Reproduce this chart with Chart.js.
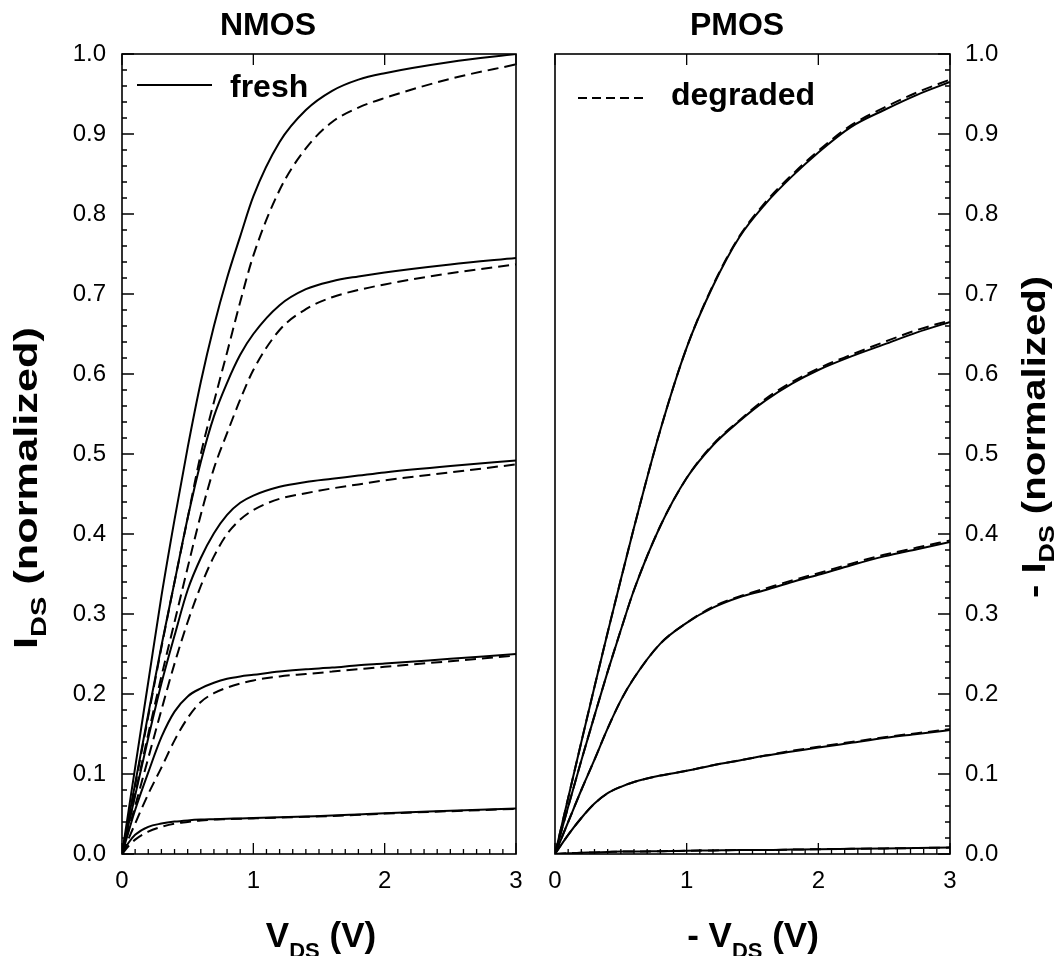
<!DOCTYPE html>
<html lang="en">
<head>
<meta charset="UTF-8">
<title>NMOS / PMOS output characteristics</title>
<script src="https://cdn.jsdelivr.net/npm/chart.js@4.4.0/dist/chart.umd.min.js"></script>
<style>
  body { margin: 0; background: #fff; }
  #wrap { position: relative; width: 1060px; height: 956px; overflow: hidden; }
  canvas { position: absolute; top: 0; }
</style>
</head>
<body>
<div id="wrap">
  <canvas id="nmos" width="530" height="956" style="left:0"></canvas>
  <canvas id="pmos" width="530" height="956" style="left:530px"></canvas>
</div>
<script>
// ---- data (normalized drain current vs |VDS|) ----
const NMOS_VDS = [0, 0.05, 0.1, 0.2, 0.3, 0.4, 0.5, 0.6, 0.7, 0.8, 0.9, 1.0, 1.2, 1.4, 1.6, 1.8, 2.0, 2.5, 3.0];
const nmosFresh1 = [0, 0.054, 0.108, 0.215, 0.322, 0.418, 0.508, 0.59, 0.66, 0.72, 0.772, 0.822, 0.89, 0.93, 0.954, 0.968, 0.976, 0.99, 1.0];
const nmosDegraded1 = [0, 0.043, 0.086, 0.172, 0.258, 0.34, 0.42, 0.5, 0.565, 0.627, 0.69, 0.748, 0.83, 0.882, 0.915, 0.933, 0.945, 0.969, 0.987];
const nmosFresh2 = [0, 0.044, 0.088, 0.175, 0.26, 0.34, 0.42, 0.49, 0.547, 0.589, 0.624, 0.65, 0.686, 0.706, 0.716, 0.722, 0.727, 0.737, 0.745];
const nmosDegraded2 = [0, 0.038, 0.075, 0.15, 0.222, 0.29, 0.358, 0.424, 0.482, 0.526, 0.568, 0.605, 0.655, 0.681, 0.696, 0.705, 0.712, 0.726, 0.737];
const nmosFresh3 = [0, 0.037, 0.073, 0.145, 0.213, 0.273, 0.33, 0.37, 0.401, 0.424, 0.439, 0.448, 0.459, 0.465, 0.469, 0.473, 0.477, 0.485, 0.492];
const nmosDegraded3 = [0, 0.03, 0.06, 0.12, 0.18, 0.238, 0.29, 0.335, 0.372, 0.4, 0.418, 0.43, 0.444, 0.451, 0.457, 0.462, 0.467, 0.477, 0.487];
const nmosFresh4 = [0, 0.028, 0.055, 0.102, 0.146, 0.178, 0.197, 0.207, 0.214, 0.219, 0.222, 0.224, 0.228, 0.231, 0.233, 0.236, 0.238, 0.244, 0.25];
const nmosDegraded4 = [0, 0.019, 0.038, 0.075, 0.108, 0.142, 0.17, 0.19, 0.201, 0.208, 0.213, 0.217, 0.222, 0.225, 0.228, 0.231, 0.234, 0.241, 0.248];
const nmosFresh5 = [0, 0.014, 0.024, 0.034, 0.038, 0.0405, 0.042, 0.043, 0.0435, 0.044, 0.0445, 0.045, 0.046, 0.047, 0.048, 0.0495, 0.051, 0.054, 0.057];
const nmosDegraded5 = [0, 0.01, 0.018, 0.028, 0.034, 0.038, 0.04, 0.042, 0.043, 0.0435, 0.044, 0.0445, 0.0455, 0.0465, 0.0475, 0.049, 0.0505, 0.0535, 0.0565];

const PMOS_VDS = [0, 0.1, 0.2, 0.3, 0.4, 0.5, 0.6, 0.8, 1.0, 1.2, 1.4, 1.6, 1.8, 2.0, 2.25, 2.5, 2.75, 3.0];
const pmosFresh1 = [0, 0.07, 0.14, 0.209, 0.277, 0.343, 0.408, 0.53, 0.633, 0.71, 0.771, 0.813, 0.847, 0.877, 0.909, 0.93, 0.949, 0.965];
const pmosDegraded1 = [0, 0.07, 0.14, 0.209, 0.277, 0.343, 0.408, 0.53, 0.633, 0.711, 0.772, 0.815, 0.849, 0.879, 0.911, 0.933, 0.952, 0.968];
const pmosFresh2 = [0, 0.059, 0.117, 0.173, 0.228, 0.28, 0.33, 0.41, 0.47, 0.511, 0.541, 0.567, 0.588, 0.605, 0.622, 0.637, 0.652, 0.665];
const pmosDegraded2 = [0, 0.059, 0.117, 0.173, 0.228, 0.28, 0.33, 0.41, 0.47, 0.512, 0.542, 0.569, 0.59, 0.607, 0.624, 0.64, 0.655, 0.667];
const pmosFresh3 = [0, 0.04, 0.08, 0.118, 0.157, 0.192, 0.22, 0.263, 0.289, 0.308, 0.321, 0.33, 0.34, 0.349, 0.361, 0.372, 0.381, 0.39];
const pmosDegraded3 = [0, 0.04, 0.08, 0.118, 0.157, 0.192, 0.22, 0.263, 0.289, 0.309, 0.322, 0.332, 0.342, 0.351, 0.363, 0.374, 0.383, 0.392];
const pmosFresh4 = [0, 0.024, 0.045, 0.063, 0.076, 0.084, 0.09, 0.098, 0.104, 0.111, 0.117, 0.123, 0.128, 0.133, 0.139, 0.145, 0.15, 0.155];
const pmosDegraded4 = [0, 0.024, 0.045, 0.063, 0.076, 0.084, 0.09, 0.098, 0.104, 0.111, 0.117, 0.123, 0.129, 0.134, 0.14, 0.146, 0.151, 0.156];
const pmosFresh5 = [0, 0.001, 0.0015, 0.002, 0.0025, 0.003, 0.003, 0.0035, 0.004, 0.0045, 0.005, 0.005, 0.0055, 0.006, 0.0065, 0.007, 0.0075, 0.008];
const pmosDegraded5 = [0, 0.001, 0.0015, 0.002, 0.0025, 0.003, 0.003, 0.0035, 0.004, 0.0045, 0.005, 0.005, 0.0055, 0.006, 0.0065, 0.007, 0.0075, 0.008];

const panelTitles = ['NMOS', 'PMOS'];
const legendLabels = ['fresh', 'degraded'];

const FONT = '"Liberation Sans", Arial, Helvetica, sans-serif';
const DASH = [11, 6];

function points(vs, is) {
  return vs.map((v, k) => ({ x: v, y: is[k] }));
}

function curveSets(vs, fresh, degraded) {
  const sets = [];
  fresh.forEach(c => sets.push({ data: points(vs, c), borderDash: [] }));
  degraded.forEach(c => sets.push({ data: points(vs, c), borderDash: DASH }));
  return sets.map(s => Object.assign(s, {
    showLine: true, pointRadius: 0, borderColor: '#000', borderWidth: 2,
    cubicInterpolationMode: 'monotone', fill: false
  }));
}

// draws a run of text pieces [text, size, dy]; targetLen stretches along the text
function drawRich(ctx, parts, x, y, align, rotate, targetLen) {
  ctx.save();
  ctx.translate(x, y);
  if (rotate) ctx.rotate(-Math.PI / 2);
  let total = 0;
  const widths = parts.map(p => {
    ctx.font = 'bold ' + p[1] + 'px ' + FONT;
    const w = ctx.measureText(p[0]).width;
    total += w;
    return w;
  });
  if (targetLen) ctx.scale(targetLen / total, 1);
  let cx = align === 'center' ? -total / 2 : 0;
  ctx.fillStyle = '#000';
  ctx.textBaseline = 'alphabetic';
  ctx.textAlign = 'left';
  parts.forEach((p, k) => {
    ctx.font = 'bold ' + p[1] + 'px ' + FONT;
    ctx.fillText(p[0], cx, p[2]);
    cx += widths[k];
  });
  ctx.restore();
}

// box + inward ticks
function framePlugin(yOnRight) {
  return {
    id: 'frame',
    afterDraw(chart) {
      const { ctx, chartArea: a, scales: { x, y } } = chart;
      ctx.save();
      ctx.strokeStyle = '#000';
      ctx.lineWidth = 1.6;
      ctx.strokeRect(a.left, a.top, a.right - a.left, a.bottom - a.top);
      ctx.lineWidth = 1.3;
      ctx.beginPath();
      for (let k = 0; k <= 30; k++) {
        const px = x.getPixelForValue(k / 10);
        const major = k % 10 === 0;
        const len = major ? 11 : 5;
        ctx.moveTo(px, a.bottom); ctx.lineTo(px, a.bottom - len);
        if (major) { ctx.moveTo(px, a.top); ctx.lineTo(px, a.top + len); }
      }
      const edge = yOnRight ? a.right : a.left;
      const dir = yOnRight ? -1 : 1;
      for (let k = 0; k <= 50; k++) {
        const py = y.getPixelForValue(k / 50);
        const len = k % 5 === 0 ? 12 : 5;
        ctx.moveTo(edge, py); ctx.lineTo(edge + dir * len, py);
      }
      ctx.stroke();
      ctx.restore();
    }
  };
}

function textPlugin(cfg) {
  return {
    id: 'texts',
    afterDraw(chart) {
      const ctx = chart.ctx;
      drawRich(ctx, [[cfg.title, 32, 0]], cfg.titleX, 35, 'center');
      drawRich(ctx, cfg.xTitle, cfg.xTitleX, 947, 'center');
      drawRich(ctx, cfg.yTitle, cfg.yTitleX, cfg.yTitleY, 'center', true, 322);
      // legend entry
      ctx.save();
      ctx.strokeStyle = '#000';
      ctx.lineWidth = 2;
      ctx.setLineDash(cfg.legendDash);
      ctx.beginPath();
      ctx.moveTo(cfg.legendX0, cfg.legendY);
      ctx.lineTo(cfg.legendX1, cfg.legendY);
      ctx.stroke();
      ctx.restore();
      drawRich(ctx, [[cfg.legendText, 32, 0]], cfg.legendTextX, cfg.legendBase, 'left');
    }
  };
}

function axisOpts(extra) {
  return Object.assign({
    grid: { display: false, drawTicks: false },
    border: { display: false }
  }, extra);
}

const tickFont = { family: FONT, size: 24 };

function xFit(s) {
  s.height = 102;
  s.paddingLeft = 0;
  s.paddingRight = 0;
}

new Chart(document.getElementById('nmos'), {
  type: 'scatter',
  data: {
    datasets: curveSets(NMOS_VDS,
      [nmosFresh1, nmosFresh2, nmosFresh3, nmosFresh4, nmosFresh5],
      [nmosDegraded1, nmosDegraded2, nmosDegraded3, nmosDegraded4, nmosDegraded5])
  },
  options: {
    responsive: false, animation: false, devicePixelRatio: 1,
    layout: { padding: { top: 54, right: 14, left: 0, bottom: 0 } },
    plugins: { legend: { display: false }, tooltip: { enabled: false } },
    scales: {
      x: axisOpts({
        type: 'linear', min: 0, max: 3, position: 'bottom',
        afterFit: xFit,
        ticks: { stepSize: 1, padding: 13, color: '#000', font: tickFont, maxRotation: 0 }
      }),
      y: axisOpts({
        type: 'linear', min: 0, max: 1, position: 'left',
        afterFit: s => { s.width = 122; s.paddingTop = 0; s.paddingBottom = 0; },
        ticks: { stepSize: 0.1, padding: 16, color: '#000', font: tickFont, autoSkip: false,
                 callback: v => v.toFixed(1) }
      })
    }
  },
  plugins: [framePlugin(false), textPlugin({
    title: panelTitles[0], titleX: 268,
    xTitle: [['V', 35, 0], ['DS', 22, 11], [' (V)', 35, 0]], xTitleX: 321,
    yTitle: [['I', 33, 0], ['DS', 22, 9], [' (normalized)', 33, 0]], yTitleX: 37, yTitleY: 488,
    legendDash: [], legendX0: 137, legendX1: 212, legendY: 85,
    legendText: legendLabels[0], legendTextX: 230, legendBase: 97
  })]
});

new Chart(document.getElementById('pmos'), {
  type: 'scatter',
  data: {
    datasets: curveSets(PMOS_VDS,
      [pmosFresh1, pmosFresh2, pmosFresh3, pmosFresh4, pmosFresh5],
      [pmosDegraded1, pmosDegraded2, pmosDegraded3, pmosDegraded4, pmosDegraded5])
  },
  options: {
    responsive: false, animation: false, devicePixelRatio: 1,
    layout: { padding: { top: 54, right: 0, left: 25, bottom: 0 } },
    plugins: { legend: { display: false }, tooltip: { enabled: false } },
    scales: {
      x: axisOpts({
        type: 'linear', min: 0, max: 3, position: 'bottom',
        afterFit: xFit,
        ticks: { stepSize: 1, padding: 13, color: '#000', font: tickFont, maxRotation: 0 }
      }),
      y: axisOpts({
        type: 'linear', min: 0, max: 1, position: 'right',
        afterFit: s => { s.width = 110; s.paddingTop = 0; s.paddingBottom = 0; },
        ticks: { stepSize: 0.1, padding: 15, color: '#000', font: tickFont, autoSkip: false,
                 callback: v => v.toFixed(1) }
      })
    }
  },
  plugins: [framePlugin(true), textPlugin({
    title: panelTitles[1], titleX: 207,
    xTitle: [['- V', 35, 0], ['DS', 22, 11], [' (V)', 35, 0]], xTitleX: 223,
    yTitle: [['- I', 33, 0], ['DS', 22, 9], [' (normalized)', 33, 0]], yTitleX: 515, yTitleY: 437,
    legendDash: [9, 5], legendX0: 48, legendX1: 116, legendY: 98,
    legendText: legendLabels[1], legendTextX: 141, legendBase: 105
  })]
});
</script>
</body>
</html>
